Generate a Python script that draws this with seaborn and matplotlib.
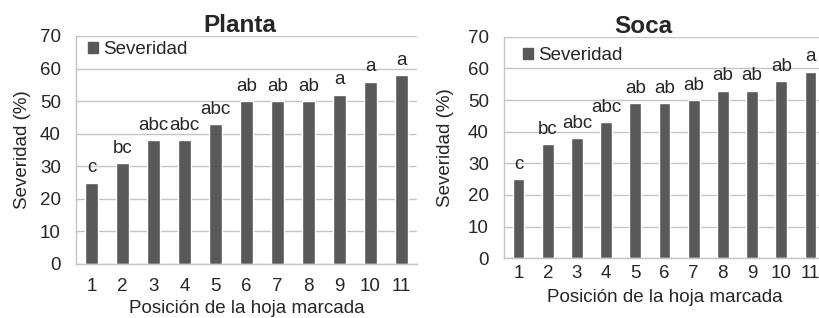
import matplotlib
matplotlib.use("Agg")
import matplotlib.pyplot as plt
import seaborn as sns
import pandas as pd
from matplotlib.patches import Patch

positions = ["1", "2", "3", "4", "5", "6", "7", "8", "9", "10", "11"]
planta_values = [25, 31, 38, 38, 43, 50, 50, 50, 52, 56, 58]
planta_letters = ["c", "bc", "abc", "abc", "abc", "ab", "ab", "ab", "a", "a", "a"]
soca_values = [25, 36, 38, 43, 49, 49, 50, 53, 53, 56, 59]
soca_letters = ["c", "bc", "abc", "abc", "ab", "ab", "ab", "ab", "ab", "ab", "a"]
yticks = [0, 10, 20, 30, 40, 50, 60, 70]

sns.set_style("white")
plt.rcParams["font.family"] = ["Liberation Sans", "DejaVu Sans"]

BAR = "#595959"
GRID = "#c4c4c4"
FS = 13.5

W, H = 819, 318
fig = plt.figure(figsize=(W / 100, H / 100), dpi=100)


def make_axes(left, right, top, bottom):
    return fig.add_axes([left / W, 1 - bottom / H, (right - left) / W, (bottom - top) / H])


ax1 = make_axes(76, 417, 36, 264)
ax2 = make_axes(504, 825, 36.7, 258.3)

panels = [
    (ax1, "Planta", planta_values, planta_letters, 0.48, 10, 3.5, 6, (0.035, 0.939)),
    (ax2, "Soca", soca_values, soca_letters, 0.435, 5, 5, 10, (0.059, 0.913)),
]

for ax, title, vals, letters, tx, xpad, lpad, ypad, legpos in panels:
    df = pd.DataFrame({"Posición": positions, "Severidad": vals})
    sns.barplot(data=df, x="Posición", y="Severidad", color=BAR, width=0.4,
                saturation=1, ax=ax, order=positions)
    ax.set_ylim(0, 70)
    ax.set_xlim(-0.5, len(positions) - 0.5)
    ax.set_yticks(yticks)
    ax.yaxis.grid(True, color=GRID, linewidth=1)
    ax.set_axisbelow(True)
    for s in ["top", "right"]:
        ax.spines[s].set_visible(False)
    for s in ["left", "bottom"]:
        ax.spines[s].set_color(GRID)
        ax.spines[s].set_linewidth(1)
    ax.tick_params(axis="y", length=5, color=GRID, width=1, pad=6, labelsize=FS)
    ax.tick_params(axis="x", length=0, pad=xpad, labelsize=FS)
    ax.set_ylabel("Severidad (%)", fontsize=FS, labelpad=ypad)
    ax.set_xlabel("Posición de la hoja marcada", fontsize=FS, labelpad=lpad)
    ax.set_title(title, fontsize=17.5, fontweight="bold", x=tx, pad=3)
    for i, (v, lab) in enumerate(zip(vals, letters)):
        ax.annotate(lab, (i, v), xytext=(0, 4.5), textcoords="offset points",
                    ha="center", va="bottom", fontsize=FS)
    ax.legend(handles=[Patch(color=BAR)], labels=["Severidad"], loc="center left",
              bbox_to_anchor=legpos, frameon=False, handlelength=0.55,
              handleheight=0.55, handletextpad=0.25, borderpad=0,
              borderaxespad=0, fontsize=FS)

fig.savefig("out.png", dpi=100)
